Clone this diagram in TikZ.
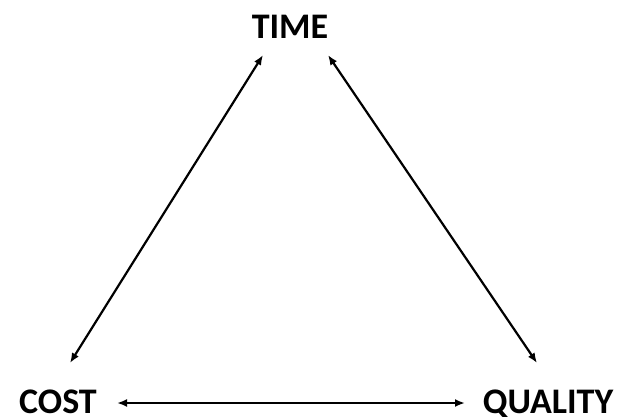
\documentclass[tikz,border=0pt]{standalone}
\usepackage{fontspec}
\setmainfont{Carlito}
\usetikzlibrary{arrows.meta}
\begin{document}
\begin{tikzpicture}[x=1pt,y=1pt,
  lbl/.style={inner sep=0pt,anchor=base,font=\bfseries\fontsize{36}{40}\selectfont},
  conn/.style={line width=2.2pt,{Latex[length=10pt,width=8pt]}-{Latex[length=10pt,width=8pt]}}]
\useasboundingbox (0,0) rectangle (620,416);
\node[lbl] (time) at (290,377) {TIME};
\node[lbl] (cost) at (58,3) {COST};
\node[lbl] (quality) at (548,3) {QUALITY};
\coordinate (tl) at (263,361);
\coordinate (tr) at (328,361);
\coordinate (cl) at (70,53);
\coordinate (qr) at (537,53);
\coordinate (cb) at (117,13);
\coordinate (qb) at (465,13);
\draw[conn] (cl) -- (tl);
\draw[conn] (tr) -- (qr);
\draw[conn] (cb) -- (qb);
\end{tikzpicture}
\end{document}
